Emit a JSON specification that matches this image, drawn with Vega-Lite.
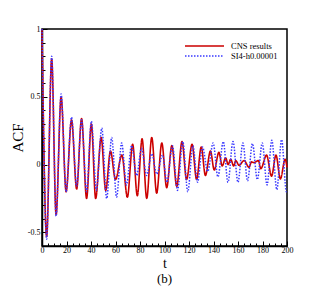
{
  "$schema": "https://vega.github.io/schema/vega-lite/v6.json",
  "width": 245,
  "height": 217,
  "autosize": "none",
  "padding": {"left": 42, "top": 29, "right": 40, "bottom": 45},
  "background": "white",
  "title": {"text": "(b)", "orient": "bottom", "font": "Liberation Serif", "fontSize": 13, "fontWeight": "normal", "color": "black", "offset": 3},
  "config": {"view": {"stroke": "black", "strokeWidth": 1.5}, "font": "Liberation Serif"},
  "datasets": {
    "cns": [
      {"t": 0, "acf": 1}, {"t": 3.8, "acf": -0.53}, {"t": 7.9, "acf": 0.78}, {"t": 11.5, "acf": -0.37},
      {"t": 15.6, "acf": 0.5}, {"t": 19.7, "acf": -0.2}, {"t": 24.1, "acf": 0.33}, {"t": 28.3, "acf": -0.18},
      {"t": 32.3, "acf": 0.34}, {"t": 36.4, "acf": -0.25}, {"t": 40.3, "acf": 0.3}, {"t": 43.8, "acf": -0.25},
      {"t": 48.3, "acf": 0.2}, {"t": 52.0, "acf": -0.19}, {"t": 55.9, "acf": 0.1}, {"t": 60.0, "acf": -0.11},
      {"t": 65.2, "acf": 0.07}, {"t": 69.7, "acf": -0.24}, {"t": 74.0, "acf": 0.15}, {"t": 77.8, "acf": -0.23},
      {"t": 81.7, "acf": 0.19}, {"t": 85.5, "acf": -0.25}, {"t": 89.6, "acf": 0.2}, {"t": 93.6, "acf": -0.21},
      {"t": 97.8, "acf": 0.16}, {"t": 101.8, "acf": -0.17}, {"t": 106.0, "acf": 0.14}, {"t": 110.0, "acf": -0.16},
      {"t": 114.3, "acf": 0.17}, {"t": 118.0, "acf": -0.11}, {"t": 122.5, "acf": 0.15}, {"t": 126.2, "acf": -0.11},
      {"t": 130.0, "acf": 0.13}, {"t": 133.4, "acf": -0.08}, {"t": 137.5, "acf": 0.1}, {"t": 140.6, "acf": -0.04},
      {"t": 144.4, "acf": 0.09}, {"t": 147.1, "acf": -0.01}, {"t": 149.9, "acf": 0.05}, {"t": 152.0, "acf": 0.0},
      {"t": 154.0, "acf": 0.04}, {"t": 156.5, "acf": -0.01}, {"t": 158.2, "acf": 0.03}, {"t": 160.8, "acf": -0.005},
      {"t": 165.0, "acf": 0.03}, {"t": 169.0, "acf": -0.02}, {"t": 171.0, "acf": 0.02}, {"t": 173.0, "acf": 0.015},
      {"t": 176.7, "acf": 0.03}, {"t": 178.6, "acf": -0.03}, {"t": 183.3, "acf": 0.07}, {"t": 187.4, "acf": -0.085},
      {"t": 191.0, "acf": 0.07}, {"t": 194.6, "acf": -0.105}, {"t": 198.5, "acf": 0.04}, {"t": 200, "acf": -0.02}
    ],
    "si4": [
      {"t": 0, "acf": 1}, {"t": 3.8, "acf": -0.55}, {"t": 7.9, "acf": 0.8}, {"t": 11.5, "acf": -0.38},
      {"t": 15.6, "acf": 0.52}, {"t": 19.7, "acf": -0.2}, {"t": 24.1, "acf": 0.35}, {"t": 28.3, "acf": -0.16},
      {"t": 32.3, "acf": 0.33}, {"t": 36.4, "acf": -0.2}, {"t": 40.3, "acf": 0.32}, {"t": 44.4, "acf": -0.19},
      {"t": 48.8, "acf": 0.27}, {"t": 52.8, "acf": -0.25}, {"t": 56.9, "acf": 0.2}, {"t": 60.9, "acf": -0.24},
      {"t": 65.0, "acf": 0.16}, {"t": 69.0, "acf": -0.15}, {"t": 73.1, "acf": 0.14}, {"t": 77.3, "acf": -0.08},
      {"t": 81.2, "acf": 0.12}, {"t": 85.5, "acf": -0.08}, {"t": 89.6, "acf": 0.08}, {"t": 93.7, "acf": -0.07},
      {"t": 98.4, "acf": 0.07}, {"t": 102.0, "acf": -0.13}, {"t": 106.5, "acf": 0.14}, {"t": 110.6, "acf": -0.19},
      {"t": 114.9, "acf": 0.17}, {"t": 119.0, "acf": -0.2}, {"t": 123.2, "acf": 0.14}, {"t": 127.0, "acf": -0.13},
      {"t": 131.0, "acf": 0.13}, {"t": 135.3, "acf": -0.05}, {"t": 139.7, "acf": 0.16}, {"t": 143.6, "acf": -0.09},
      {"t": 148.0, "acf": 0.17}, {"t": 151.8, "acf": -0.13}, {"t": 155.9, "acf": 0.17}, {"t": 160.0, "acf": -0.13},
      {"t": 164.0, "acf": 0.16}, {"t": 167.8, "acf": -0.12}, {"t": 171.8, "acf": 0.155}, {"t": 175.8, "acf": -0.11},
      {"t": 179.8, "acf": 0.16}, {"t": 183.7, "acf": -0.15}, {"t": 187.6, "acf": 0.18}, {"t": 191.7, "acf": -0.185},
      {"t": 195.6, "acf": 0.185}, {"t": 199.5, "acf": -0.2}, {"t": 200, "acf": -0.19}
    ]
  },
  "encoding": {
    "x": {
      "field": "t", "type": "quantitative",
      "scale": {"domain": [0, 200], "nice": false, "zero": false},
      "axis": {
        "title": "t", "titleFont": "Liberation Serif", "titleFontSize": 14, "titleFontWeight": "normal", "titleColor": "black", "titlePadding": 0,
        "values": [0,5,10,15,20,25,30,35,40,45,50,55,60,65,70,75,80,85,90,95,100,105,110,115,120,125,130,135,140,145,150,155,160,165,170,175,180,185,190,195,200],
        "labelExpr": "datum.value % 20 === 0 ? toString(datum.value) : ''",
        "tickSize": {"condition": {"test": "datum.value % 20 === 0", "value": -5}, "value": -3},
        "tickColor": "black", "tickWidth": 1, "domainColor": "black", "domainWidth": 1.5,
        "labelFont": "Liberation Serif", "labelFontSize": 8, "labelColor": "black", "labelPadding": 5,
        "grid": false, "labelFlush": false, "labelOverlap": false
      }
    },
    "y": {
      "field": "acf", "type": "quantitative",
      "scale": {"domain": [-0.6, 1], "nice": false, "zero": false},
      "axis": {
        "title": "ACF", "titleFont": "Liberation Serif", "titleFontSize": 15, "titleFontWeight": "normal", "titleColor": "black", "titlePadding": 2,
        "values": [-0.6,-0.5,-0.4,-0.3,-0.2,-0.1,0,0.1,0.2,0.3,0.4,0.5,0.6,0.7,0.8,0.9,1],
        "labelExpr": "abs(round(datum.value*10)) % 5 === 0 ? toString(round(datum.value*10)/10) : ''",
        "tickSize": {"condition": {"test": "abs(round(datum.value*10)) % 5 === 0", "value": -5}, "value": -3},
        "tickColor": "black", "tickWidth": 1, "domainColor": "black", "domainWidth": 1.5,
        "labelFont": "Liberation Serif", "labelFontSize": 8, "labelColor": "black", "labelPadding": 7,
        "grid": false, "labelFlush": false, "labelOverlap": false
      }
    }
  },
  "layer": [
    {
      "data": {"name": "cns"},
      "transform": [{"calculate": "'CNS results'", "as": "series"}],
      "mark": {"type": "line", "interpolate": "monotone", "strokeWidth": 1.6},
      "encoding": {
        "color": {"field": "series", "type": "nominal", "scale": {"domain": ["CNS results", "SI4-h0.00001"], "range": ["#cc0000", "#3a3aff"]},
          "legend": {"title": null, "orient": "none", "legendX": 142, "legendY": 12, "symbolType": "stroke", "symbolSize": 1521, "symbolStrokeWidth": 1.5, "labelFont": "Liberation Serif", "labelFontSize": 8.5, "labelColor": "black", "rowPadding": 0, "clipHeight": 10, "padding": 0, "labelOffset": 6}},
        "strokeDash": {"field": "series", "type": "nominal", "scale": {"domain": ["CNS results", "SI4-h0.00001"], "range": [[1, 0], [1.5, 1.5]]},
          "legend": {"title": null, "orient": "none", "legendX": 142, "legendY": 12, "symbolType": "stroke", "symbolSize": 1521, "symbolStrokeWidth": 1.5, "labelFont": "Liberation Serif", "labelFontSize": 8.5, "labelColor": "black", "rowPadding": 0, "clipHeight": 10, "padding": 0, "labelOffset": 6}}
      }
    },
    {
      "data": {"name": "si4"},
      "transform": [{"calculate": "'SI4-h0.00001'", "as": "series"}],
      "mark": {"type": "line", "interpolate": "monotone", "strokeWidth": 1.5},
      "encoding": {
        "color": {"field": "series", "type": "nominal"},
        "strokeDash": {"field": "series", "type": "nominal"}
      }
    }
  ]
}
